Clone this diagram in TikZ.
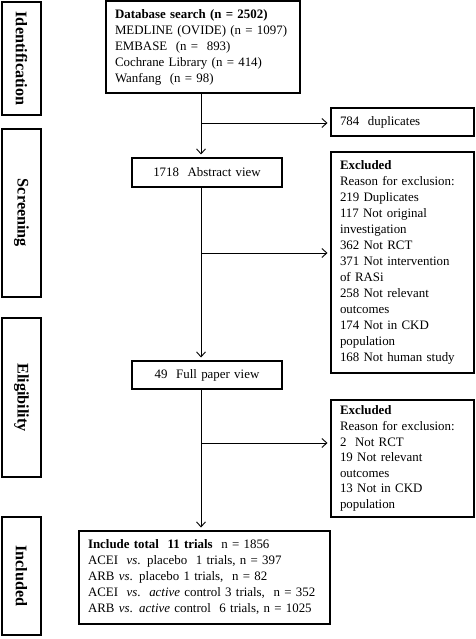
\documentclass[tikz,border=0pt]{standalone}
\usepackage{fontspec}
\setmainfont{Liberation Serif}
\usetikzlibrary{arrows.meta}

\tikzset{
  box/.style={draw, line width=2.4pt, outer sep=0pt, inner xsep=9pt, inner ysep=0pt,
    anchor=north west, align=left, font=\fontsize{12.9}{16}\selectfont},
  phase/.style={draw, line width=2.6pt, outer sep=0pt, inner sep=0pt, rotate=-90,
    font=\fontsize{16.2}{18}\selectfont\bfseries},
  link/.style={line width=0.9pt, -{Straight Barb[length=5pt,width=9pt]}, shorten >=3.5pt},
}

\begin{document}
\begin{tikzpicture}[x=1pt,y=-1pt]
  \useasboundingbox (0,0) rectangle (475,639);

  % colonne des phases (texte vertical)
  \node[phase, minimum width=113pt, minimum height=39pt] (ident)  at (21.5,58.5) {Identification};
  \node[phase, minimum width=168pt, minimum height=39pt] (screen) at (21.5,213)  {Screening};
  \node[phase, minimum width=159pt, minimum height=39pt] (elig)   at (21.5,397.5) {Eligibility};
  \node[phase, minimum width=118pt, minimum height=39pt] (inclph) at (21.5,576)  {Included};

  % boites principales
  \node[box, minimum width=194pt, minimum height=92pt, text width=176pt] (db) at (106,1)
    {\textbf{Database search (n = 2502)}\\
     MEDLINE (OVIDE) (n = 1097)\\
     EMBASE\ \ (n =\ \ 893)\\
     Cochrane Library (n = 414)\\
     Wanfang\ \ (n = 98)};
  \node[box, minimum width=150pt, minimum height=29pt, text width=132pt, align=center] (abs) at (132,158)
    {1718\ \ Abstract view};
  \node[box, minimum width=150pt, minimum height=28pt, text width=132pt, align=center] (full) at (132,361)
    {49\ \ Full paper view};
  \node[box, minimum width=251pt, minimum height=93pt, text width=233pt] (incl) at (79,531)
    {\textbf{Include total\ \ 11 trials}\ \ n = 1856\\
     ACEI\ \ \textit{vs}. placebo\ \ 1 trials, n = 397\\
     ARB \textit{vs}. placebo 1 trials,\ \ n = 82\\
     ACEI\ \ \textit{vs}.\ \ \textit{active} control 3 trials,\ \ n = 352\\
     ARB \textit{vs}. \textit{active} control\ \ 6 trials, n = 1025};

  % boites d'exclusion (a droite)
  \node[box, minimum width=143pt, minimum height=28pt, text width=125pt] (dup) at (331,108)
    {784\ \ duplicates};
  \node[box, minimum width=143pt, minimum height=221pt, text width=125pt] (excl1) at (331,152)
    {\textbf{Excluded}\\
     Reason for exclusion:\\
     219 Duplicates\\
     117 Not original\\
     investigation\\
     362 Not RCT\\
     371 Not intervention\\
     of RASi\\
     258 Not relevant\\
     outcomes\\
     174 Not in CKD\\
     population\\
     168 Not human study};
  \node[box, minimum width=143pt, minimum height=117pt, text width=125pt,
        font=\fontsize{12.9}{15.6}\selectfont] (excl2) at (331,400)
    {\textbf{Excluded}\\
     Reason for exclusion:\\
     2\ \ Not RCT\\
     19 Not relevant\\
     outcomes\\
     13 Not in CKD\\
     population};

  % axe vertical et embranchements
  \coordinate (spine) at (201,0);
  \coordinate (br1) at (201,123);
  \coordinate (br2) at (201,253);
  \coordinate (br3) at (201,443);

  \draw[link] (db.south -| spine) -- (abs.north -| spine);
  \draw[link] (br1) -- (br1 -| dup.west);
  \draw[link] (abs.south -| spine) -- (full.north -| spine);
  \draw[link] (br2) -- (br2 -| excl1.west);
  \draw[link] (full.south -| spine) -- (incl.north -| spine);
  \draw[link] (br3) -- (br3 -| excl2.west);
\end{tikzpicture}
\end{document}
